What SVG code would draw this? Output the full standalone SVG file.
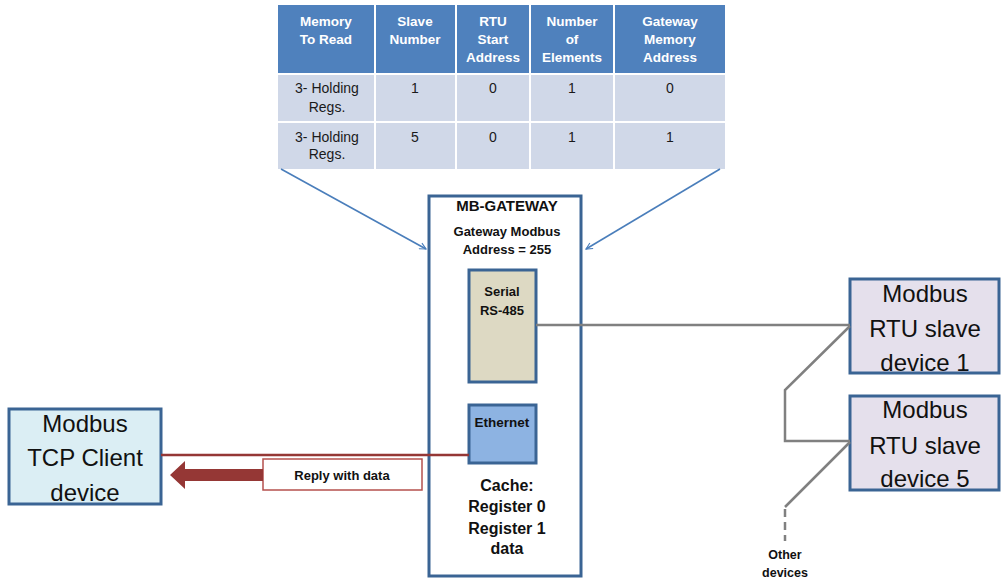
<svg xmlns="http://www.w3.org/2000/svg" width="1001" height="579" viewBox="0 0 1001 579">
<defs>
<marker id="openArrow" viewBox="0 0 10 10" refX="9" refY="5" markerWidth="8" markerHeight="8" markerUnits="userSpaceOnUse" orient="auto">
<path d="M1,1 L9,5 L1,9" fill="none" stroke="#4a7ebb" stroke-width="1.4"/>
</marker>
</defs>
<style>
text{font-family:"Liberation Sans",Arial,sans-serif;text-anchor:middle;}
.hd{fill:#4f81bd;}
.bd{fill:#d0d8e8;}
.ht{fill:#ffffff;font-weight:bold;font-size:13.5px;}
.bt{fill:#1a1a1a;font-size:14px;}
.box{stroke:#3a6494;stroke-width:3;}
.big{fill:#111;font-size:24px;}
.bold{fill:#111;font-weight:bold;}
.gray{fill:none;stroke:#808080;stroke-width:2.5;}
</style>
<g id="table">
<rect class="hd" x="278" y="5" width="96" height="68"/>
<rect class="hd" x="376" y="5" width="79" height="68"/>
<rect class="hd" x="457" y="5" width="72" height="68"/>
<rect class="hd" x="531" y="5" width="82" height="68"/>
<rect class="hd" x="615" y="5" width="110" height="68"/>
<rect class="bd" x="278" y="75" width="96" height="46"/>
<rect class="bd" x="376" y="75" width="79" height="46"/>
<rect class="bd" x="457" y="75" width="72" height="46"/>
<rect class="bd" x="531" y="75" width="82" height="46"/>
<rect class="bd" x="615" y="75" width="110" height="46"/>
<rect class="bd" x="278" y="123" width="96" height="46"/>
<rect class="bd" x="376" y="123" width="79" height="46"/>
<rect class="bd" x="457" y="123" width="72" height="46"/>
<rect class="bd" x="531" y="123" width="82" height="46"/>
<rect class="bd" x="615" y="123" width="110" height="46"/>
<text class="ht" x="326" y="25.5">Memory</text>
<text class="ht" x="326" y="43.5">To Read</text>
<text class="ht" x="415" y="25.5">Slave</text>
<text class="ht" x="415" y="43.5">Number</text>
<text class="ht" x="493" y="25.5">RTU</text>
<text class="ht" x="493" y="43.5">Start</text>
<text class="ht" x="493" y="61.5">Address</text>
<text class="ht" x="572" y="25.5">Number</text>
<text class="ht" x="572" y="43.5">of</text>
<text class="ht" x="572" y="61.5">Elements</text>
<text class="ht" x="670" y="25.5">Gateway</text>
<text class="ht" x="670" y="43.5">Memory</text>
<text class="ht" x="670" y="61.5">Address</text>
<text class="bt" x="327" y="93">3- Holding</text>
<text class="bt" x="327" y="112">Regs.</text>
<text class="bt" x="415" y="93">1</text>
<text class="bt" x="493" y="93">0</text>
<text class="bt" x="572" y="93">1</text>
<text class="bt" x="670" y="93">0</text>
<text class="bt" x="327" y="142">3- Holding</text>
<text class="bt" x="327" y="159">Regs.</text>
<text class="bt" x="415" y="142">5</text>
<text class="bt" x="493" y="142">0</text>
<text class="bt" x="572" y="142">1</text>
<text class="bt" x="670" y="142">1</text>
</g>
<g id="gateway">
<rect class="box" x="429" y="196" width="152" height="380" fill="#ffffff"/>
<text class="bold" x="507" y="211" font-size="15px">MB-GATEWAY</text>
<text class="bold" x="507" y="235.5" font-size="13px">Gateway Modbus</text>
<text class="bold" x="507" y="253.5" font-size="13px">Address = 255</text>
<text class="bold" x="507" y="490.5" font-size="16px">Cache:</text>
<text class="bold" x="507" y="511.5" font-size="16px">Register 0</text>
<text class="bold" x="507" y="533.5" font-size="16px">Register 1</text>
<text class="bold" x="507" y="553.5" font-size="16px">data</text>
</g>
<g id="serial">
<rect class="box" x="469" y="270" width="67" height="112" fill="#ddd9c3"/>
<text class="bold" x="502" y="295.5" font-size="13px">Serial</text>
<text class="bold" x="502" y="314.5" font-size="13px">RS-485</text>
</g>
<g id="ethernet">
<rect class="box" x="469" y="405" width="67" height="58" fill="#8db3e2"/>
<text class="bold" x="502" y="426.5" font-size="13.5px">Ethernet</text>
</g>
<g id="client">
<rect class="box" x="9" y="409" width="152" height="95" fill="#dbeef4"/>
<text class="big" x="85" y="431.5">Modbus</text>
<text class="big" x="85" y="465.5">TCP Client</text>
<text class="big" x="85" y="500.5">device</text>
</g>
<g id="slave1">
<rect class="box" x="850" y="279" width="149" height="94" fill="#e5e0ec"/>
<text class="big" x="925" y="301.5">Modbus</text>
<text class="big" x="925" y="336.5">RTU slave</text>
<text class="big" x="925" y="370.5">device 1</text>
</g>
<g id="slave5">
<rect class="box" x="850" y="396" width="149" height="94" fill="#e5e0ec"/>
<text class="big" x="925" y="417.5">Modbus</text>
<text class="big" x="925" y="453.5">RTU slave</text>
<text class="big" x="925" y="486.5">device 5</text>
</g>
<g id="reply">
<rect x="263" y="459" width="159" height="31" fill="#ffffff" stroke="#b5504d" stroke-width="1.5"/>
<text class="bold" x="342" y="479.5" font-size="13px">Reply with data</text>
</g>
<g id="other">
<text class="bold" x="785" y="559" font-size="12.5px">Other</text>
<text class="bold" x="785" y="577" font-size="12.5px">devices</text>
</g>
<g id="connectors">
<line x1="281" y1="169" x2="426" y2="249" stroke="#4a7ebb" stroke-width="1.6" marker-end="url(#openArrow)"/>
<line x1="720" y1="169" x2="586" y2="249" stroke="#4a7ebb" stroke-width="1.6" marker-end="url(#openArrow)"/>
<polyline class="gray" points="536,325 850,325"/>
<polyline class="gray" points="850,326 785,390 785,441 850,441"/>
<polyline class="gray" points="850,442 785,507"/>
<line x1="785" y1="509" x2="785" y2="541" stroke="#808080" stroke-width="2.5" stroke-dasharray="8,5"/>
<line x1="161" y1="455" x2="469" y2="455" stroke="#953735" stroke-width="2.5"/>
<path d="M263,469 L185,469 L185,461 L170,475 L185,489 L185,481 L263,481 Z" fill="#953735"/>
</g>
</svg>
